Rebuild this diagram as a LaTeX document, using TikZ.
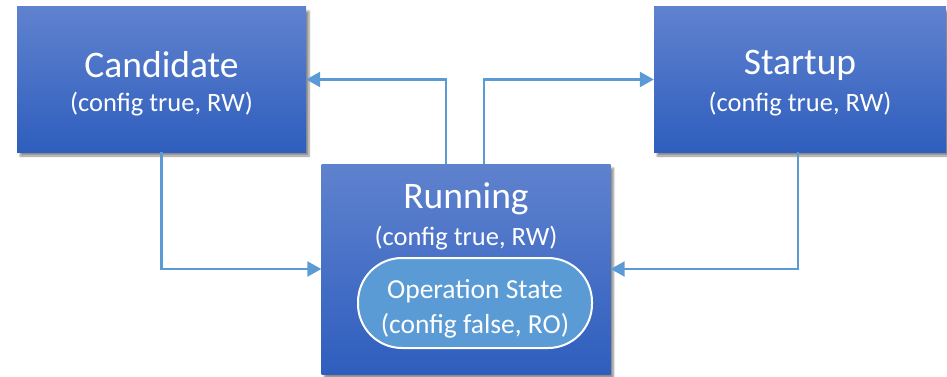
\documentclass[tikz,border=0pt]{standalone}
\usepackage{fontspec}
\setmainfont{Carlito}
\usetikzlibrary{arrows.meta,shadows.blur}
\definecolor{boxtop}{HTML}{5F82CE}
\definecolor{boxbot}{HTML}{2F5EBE}
\definecolor{linkblue}{HTML}{5B9BD5}
\tikzset{
  statebox/.style={rectangle, top color=boxtop, bottom color=boxbot, draw=none,
    text=white, align=center, inner sep=0pt,
    blur shadow={shadow xshift=3pt, shadow yshift=-4pt, shadow blur steps=6, shadow opacity=45}},
  titletext/.style={text=white, font=\fontsize{37.5}{42}\selectfont},
  subtext/.style={text=white, font=\fontsize{26.5}{30}\selectfont},
  pill/.style={rectangle, rounded corners=44pt, fill=linkblue, draw=white, line width=2pt},
  pilltext/.style={text=white, align=center, font=\fontsize{27.5}{35}\selectfont},
  conn/.style={draw=linkblue, line width=2.4pt, -{Triangle[length=14pt,width=15pt]}},
}
\begin{document}
\begin{tikzpicture}[x=1pt,y=-1pt]
\useasboundingbox (0,0) rectangle (947,377);
\node[statebox, minimum width=289pt, minimum height=145pt] (cand) at (161.5,79.5) {};
\node[titletext] (candt) at (161.5,65) {Candidate};
\node[subtext] (cands) at (161.5,104) {(config true, RW)};
\node[statebox, minimum width=292pt, minimum height=145pt] (start) at (800,79.5) {};
\node[titletext] (startt) at (800,65) {Startup};
\node[subtext] (starts) at (800,104) {(config true, RW)};
\node[statebox, minimum width=289pt, minimum height=210pt] (run) at (466,269) {};
\node[titletext] (runt) at (466,199) {Running};
\node[subtext] (runs) at (466,238) {(config true, RW)};
\node[pill, minimum width=234pt, minimum height=90pt] (op) at (475,303) {};
\node[pilltext] (opt) at (475,309) {Operation State\\(config false, RO)};
\draw[conn] ([xshift=-20pt]run.north) |- (cand.east);
\draw[conn] ([xshift=18pt]run.north) |- (start.west);
\draw[conn] (cand.south) |- (run.west);
\draw[conn] ([xshift=-2pt]start.south) |- (run.east);
\end{tikzpicture}
\end{document}
